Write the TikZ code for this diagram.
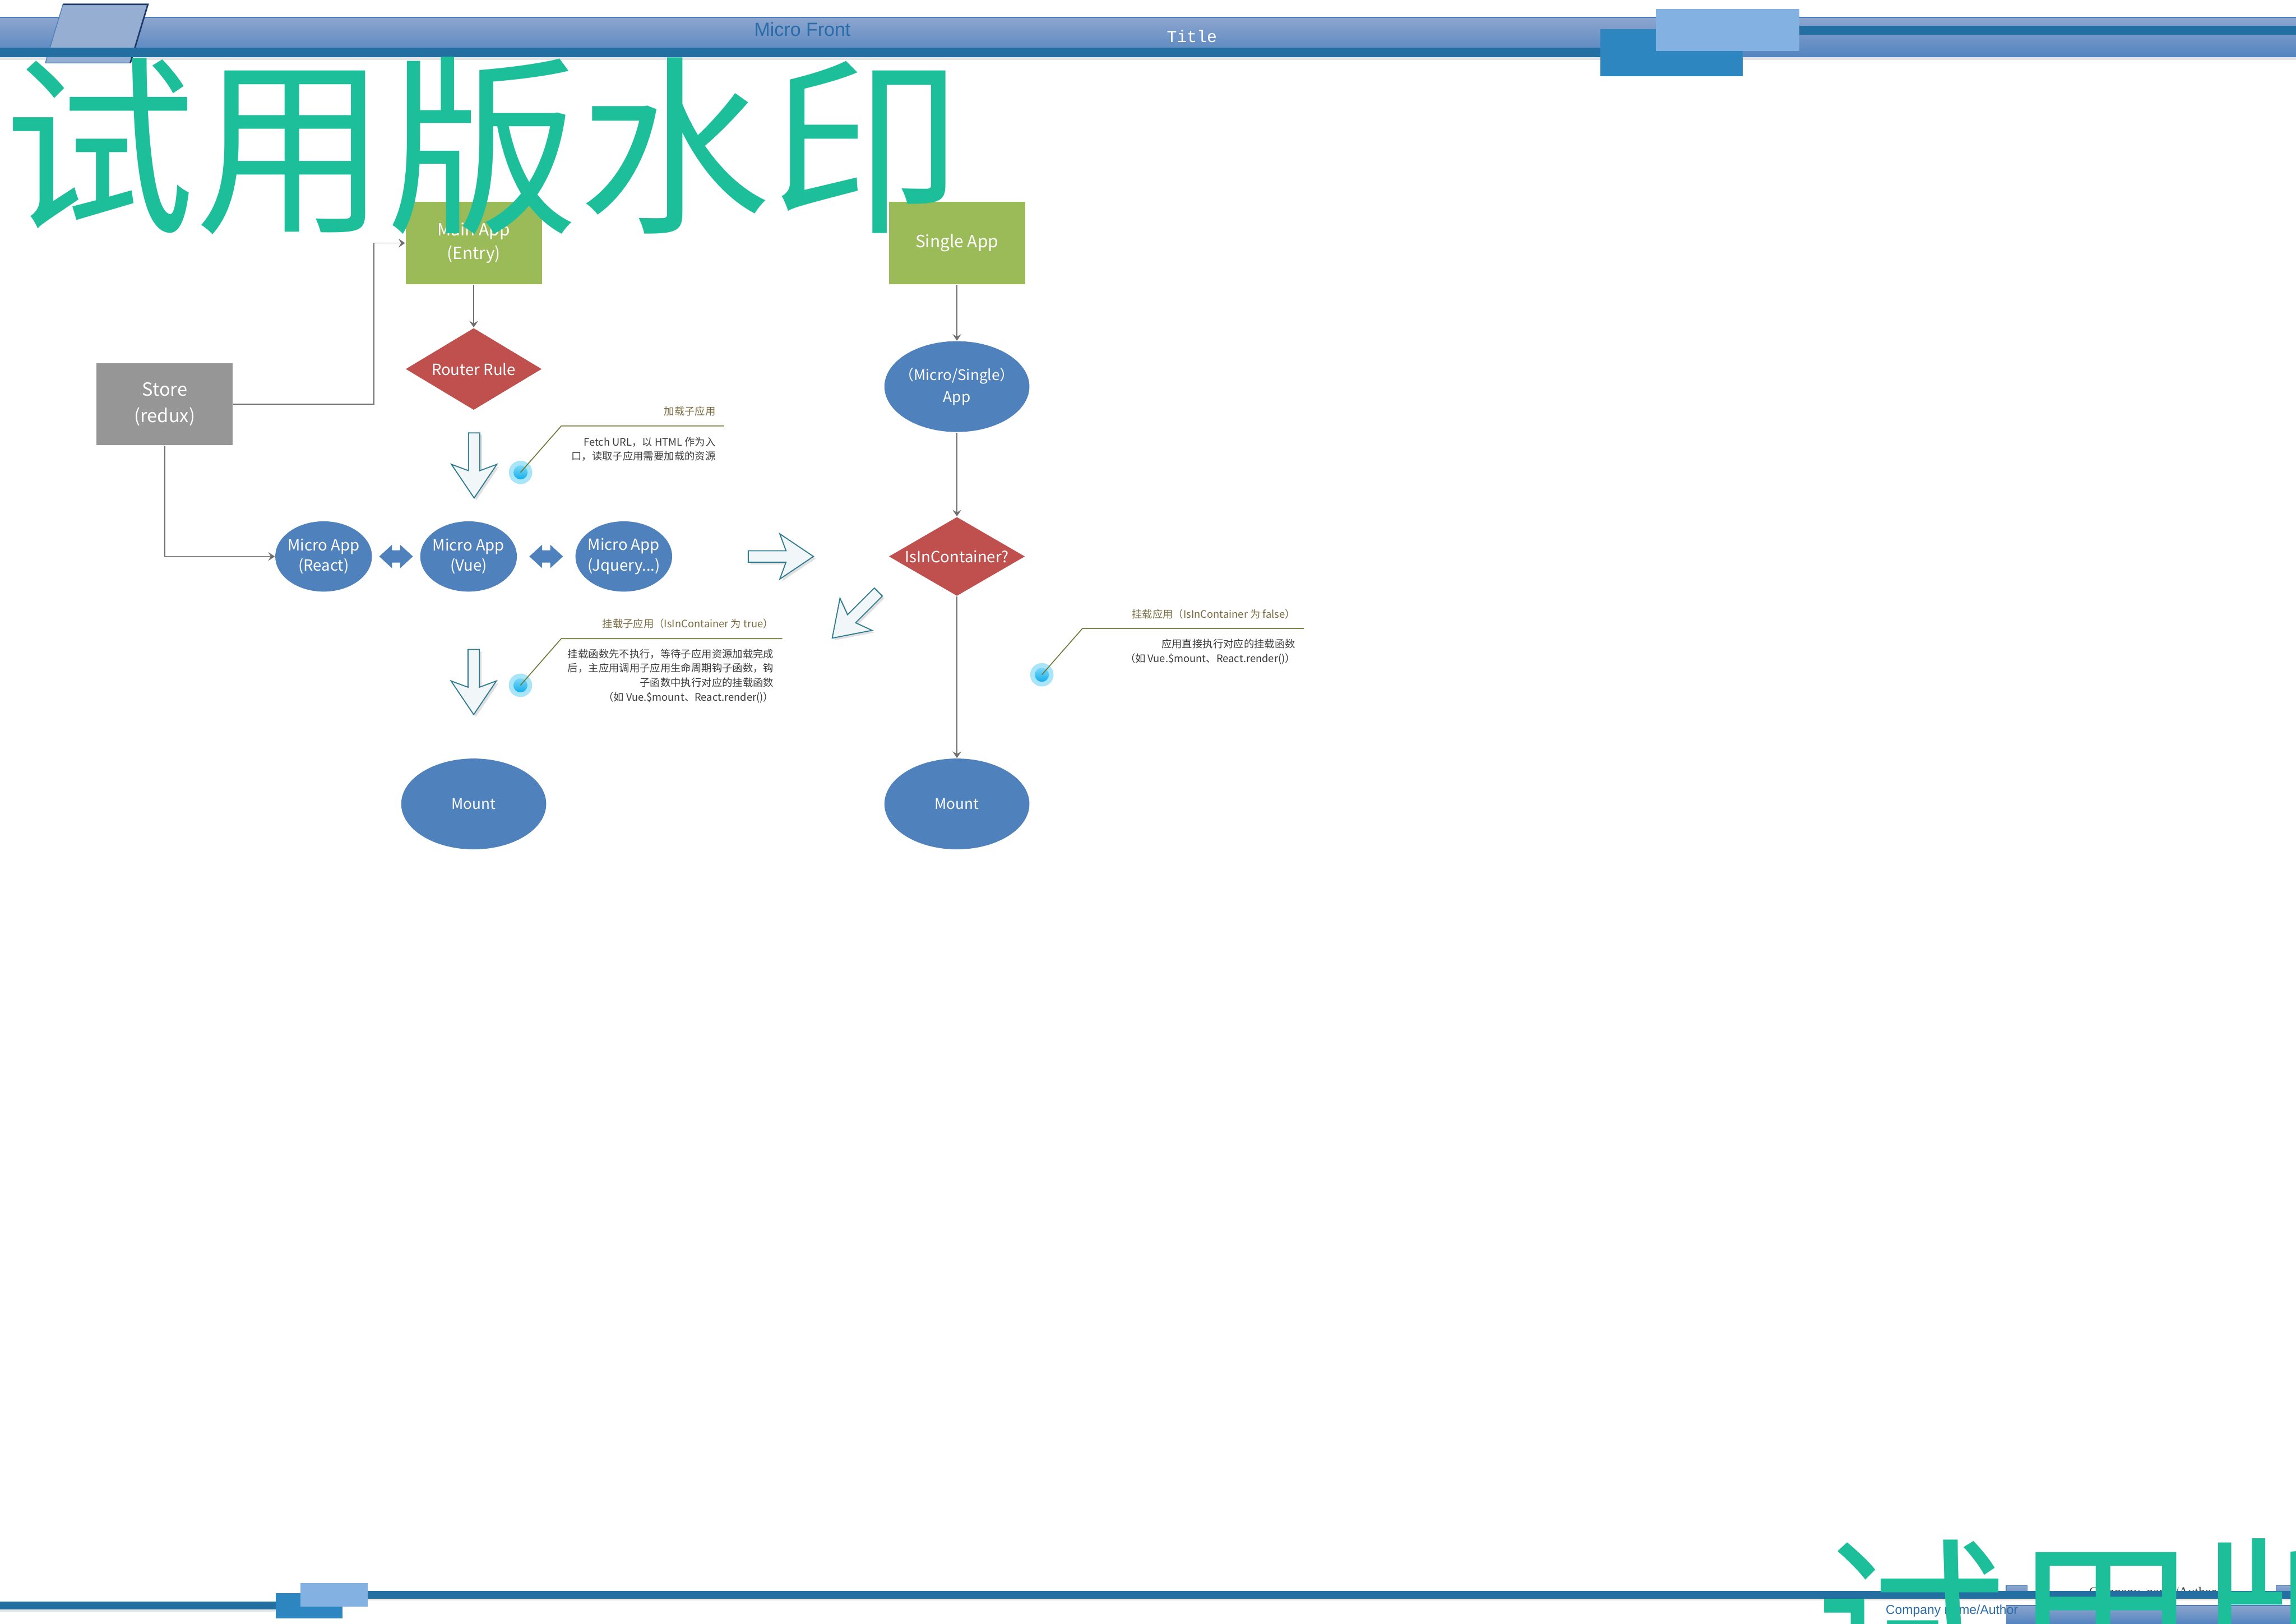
\documentclass[tikz,border=0pt]{standalone}
\usepackage{xcolor}
\usepackage{fontspec}
\newfontfamily\cjk{Noto Sans CJK SC}
\newfontfamily\hdsans{Liberation Sans}
\newfontfamily\hdmono{Liberation Mono}
\newfontfamily\hdserif{Liberation Serif}
\usepackage{tikz}
\usetikzlibrary{positioning,shapes.geometric,arrows.meta,calc}

\definecolor{appgreen}{HTML}{9BBB59}
\definecolor{rulered}{HTML}{C0504D}
\definecolor{appblue}{HTML}{4F81BD}
\definecolor{storegray}{HTML}{969696}
\definecolor{linkgray}{HTML}{6E6E6E}
\definecolor{noteolive}{HTML}{6A7A36}
\definecolor{notebrown}{HTML}{776B3F}
\definecolor{notedark}{HTML}{3A3A3A}
\definecolor{dotring}{HTML}{A9E5F9}
\definecolor{dotcore}{HTML}{14AEEC}
\definecolor{dotlite}{HTML}{7CD8F6}
\definecolor{hollowedge}{HTML}{2F7B91}
\definecolor{hollowfill}{HTML}{F1F6F9}
\definecolor{bandtop}{HTML}{8CA5CE}
\definecolor{bandbot}{HTML}{5384C0}
\definecolor{bandedge}{HTML}{4A7EBB}
\definecolor{tabshade}{HTML}{1F3B66}
\definecolor{stripdark}{HTML}{236FA1}
\definecolor{blockmid}{HTML}{2E86C1}
\definecolor{blocklite}{HTML}{83B1E1}
\definecolor{headtext}{HTML}{2A6CA8}
\definecolor{watermark}{HTML}{1DBE9A}

\begin{document}
\begin{tikzpicture}[
  x=0.2mm,
  y=-0.2mm,
  every node/.style={font=\cjk, inner sep=0pt},
  appbox/.style={rectangle, fill=appgreen, text=white, align=center,
    minimum width=18.6mm, minimum height=11.2mm,
    font=\cjk\fontsize{6.5}{9.1}\selectfont},
  storebox/.style={appbox, fill=storegray, font=\cjk\fontsize{7.1}{10.2}\selectfont},
  rulediamond/.style={diamond, aspect=1.66, fill=rulered, text=white,
    minimum width=18.6mm, minimum height=11.2mm,
    font=\cjk\fontsize{6}{8}\selectfont},
  appellipse/.style={ellipse, fill=appblue, text=white, align=center,
    minimum width=19.8mm, minimum height=12.4mm, inner xsep=-2mm,
    font=\cjk\fontsize{5.7}{8.5}\selectfont},
  microapp/.style={appellipse, minimum width=13.2mm, minimum height=9.6mm,
    inner xsep=-1mm, font=\cjk\fontsize{6}{8}\selectfont},
  link/.style={draw=linkgray, line width=0.3pt,
    -{Stealth[length=0.9mm, width=1.2mm, inset=0.35mm]}},
  notehead/.style={anchor=east, text=notebrown, font=\cjk\fontsize{4}{5.6}\selectfont},
  notebody/.style={anchor=east, align=right, text=notedark, font=\cjk\fontsize{4}{5.6}\selectfont},
  noteline/.style={draw=noteolive, line width=0.35pt},
]
\path[use as bounding box] (0,0) rectangle (1568,1109);

% Shapes.
\newcommand{\hollowarrow}[2]{%
  \begin{scope}[shift={(#1)}, xshift=0.3mm, yshift=-0.3mm, rotate=#2]
    \fill[black!12] (0,3.9) -- (25.8,3.9) -- (21.5,15.5) -- (44.5,0) -- (21.5,-15.5) -- (25.8,-3.9) -- (0,-3.9) -- cycle;
  \end{scope}
  \begin{scope}[shift={(#1)}, rotate=#2]
    \filldraw[fill=hollowfill, draw=hollowedge, line width=0.4pt] (0,3.9) -- (25.8,3.9) -- (21.5,15.5) -- (44.5,0) -- (21.5,-15.5) -- (25.8,-3.9) -- (0,-3.9) -- cycle;
  \end{scope}
}
\newcommand{\twinarrow}[1]{%
  \fill[appblue, shift={(#1)}] (-11.5,0) -- (-2.8,8) -- (-2.8,4.2) -- (2.8,4.2) -- (2.8,8) -- (11.5,0) -- (2.8,-8) -- (2.8,-4.2) -- (-2.8,-4.2) -- (-2.8,-8) -- cycle;
}
\newcommand{\notedot}[1]{%
  \fill[dotring] (#1) circle (8);
  \shade[top color=dotlite, bottom color=dotcore] (#1) circle (4.8);
}

% Header band.
\shade[top color=bandtop, bottom color=bandbot] (0,12) rectangle (1568,39);
\draw[bandedge, line width=0.4pt] (0,12) -- (1568,12);
\fill[black!10] (0,39) rectangle (1568,41);
\filldraw[fill=bandtop!90!white, draw=bandedge, line width=0.3pt] (43,3) -- (101,3) -- (89,43) -- (31,43) -- cycle;
\draw[tabshade, line width=0.6pt] (43,3) -- (101,3) -- (89,43);
\fill[stripdark] (0,32.5) rectangle (1093,39);
\fill[stripdark] (1229,17.8) rectangle (1568,23.6);
\fill[blockmid] (1093,20) rectangle (1190,52);
\fill[blocklite] (1131,6.3) rectangle (1229,35);
\node[text=headtext, font=\hdsans\fontsize{7.4}{8}\selectfont] (head) at (548,20) {Micro Front};
\node[text=white, font=\hdmono\fontsize{6.5}{7}\selectfont] (title) at (814,25) {Title};

% Footer.
\node[anchor=base, text=notedark, font=\hdserif\fontsize{5.1}{6}\selectfont] (author) at (1470,1090) {Company\_name/Author};
\filldraw[top color=bandtop, bottom color=bandbot, draw=bandedge, line width=0.3pt] (1370,1082.7) rectangle (1384.5,1092.7);
\filldraw[top color=bandtop, bottom color=bandbot, draw=bandedge, line width=0.3pt] (1554.5,1082.7) rectangle (1570,1092.7);
\fill[black!10] (251,1091.6) rectangle (1568,1093);
\fill[stripdark] (251,1086.5) rectangle (1568,1091.6);
\shade[top color=bandtop, bottom color=bandbot] (1370,1096.4) rectangle (1568,1109);
\draw[bandedge, line width=0.4pt] (1370,1096.4) -- (1568,1096.4);
\node[text=headtext, font=\hdsans\fontsize{5}{6}\selectfont] (company) at (1333,1100) {Company name/Author};
\fill[black!10] (0,1098.9) rectangle (188.5,1100.5);
\fill[stripdark] (0,1093.8) rectangle (188.5,1098.9);
\fill[blockmid] (188.5,1088) rectangle (234,1105);
\fill[blocklite] (205,1081) rectangle (251,1097);

% Main app column.
\node[appbox] (main) at (323.5,166) {Main App\\(Entry)};
\node[rulediamond] (router) at (323.5,252) {Router Rule};
\node[storebox] (store) at (112.5,276) {Store\\(redux)};
\node[microapp] (react) at (221,380) {Micro App\\(React)};
\node[microapp] (vue) at (320,380) {Micro App\\(Vue)};
\node[microapp] (jq) at (426,380) {Micro App\\(Jquery...)};
\node[appellipse] (mountL) at (323.5,549) {Mount};

% Single app column.
\node[appbox] (single) at (653.5,166) {Single App};
\node[appellipse] (msingle) at (653.5,264) {（Micro/Single）\\App};
\node[rulediamond, aspect=1.72, minimum height=10.8mm] (isin) at (653.5,380) {IsInContainer?};
\node[appellipse] (mountR) at (653.5,549) {Mount};

% Links.
\draw[link] (main) -- (router);
\draw[link] (store.east) -- ++(96,0) |- (main.west);
\draw[link] (store.south) |- (react.west);
\draw[link] (single) -- (msingle);
\draw[link] (msingle) -- (isin);
\draw[link] (isin) -- (mountR);
\twinarrow{$(react.east)!0.5!(vue.west)$}
\twinarrow{$(vue.east)!0.5!(jq.west)$}

% Flow arrows.
\hollowarrow{323.8,295.6}{-90}
\hollowarrow{323.5,443.5}{-90}
\hollowarrow{511,380}{0}
\hollowarrow{599.8,404.3}{-135}

% Notes.
\coordinate (dotA) at (355.5,322.6);
\coordinate (bendA) at (383.3,290.9);
\coordinate (endA) at (494.5,290.9);
\notedot{dotA}
\draw[noteline] (dotA) -- (bendA) -- (endA);
\node[notehead] (headA) at (489,280.7) {加载子应用};
\node[notebody] (bodyA) at (489,306.7) {Fetch URL，以 HTML 作为入\\口，读取子应用需要加载的资源};

\coordinate (dotB) at (355.4,468);
\coordinate (bendB) at (383.3,436.1);
\coordinate (endB) at (534.3,436.1);
\notedot{dotB}
\draw[noteline] (dotB) -- (bendB) -- (endB);
\node[notehead] (headB) at (528.7,426) {挂载子应用（IsInContainer 为 true）};
\node[notebody] (bodyB) at (528.7,461.6) {挂载函数先不执行，等待子应用资源加载完成\\后，主应用调用子应用生命周期钩子函数，钩\\子函数中执行对应的挂载函数\\（如 Vue.\$mount、React.render()）};

\coordinate (dotC) at (711.5,460.8);
\coordinate (bendC) at (739.2,429.2);
\coordinate (endC) at (890.5,429.2);
\notedot{dotC}
\draw[noteline] (dotC) -- (bendC) -- (endC);
\node[notehead] (headC) at (885,419.2) {挂载应用（IsInContainer 为 false）};
\node[notebody] (bodyC) at (885,444.9) {应用直接执行对应的挂载函数\\（如 Vue.\$mount、React.render()）};

% Watermark.
\node[anchor=base west, text=watermark, font=\cjk\fontsize{74.5}{80}\selectfont] (wmtop) at (2,149) {试用版水印};
\node[anchor=base west, text=watermark, font=\cjk\fontsize{74.5}{80}\selectfont] (wmbot) at (1239,1161) {试用版水印};

\end{tikzpicture}
\end{document}
